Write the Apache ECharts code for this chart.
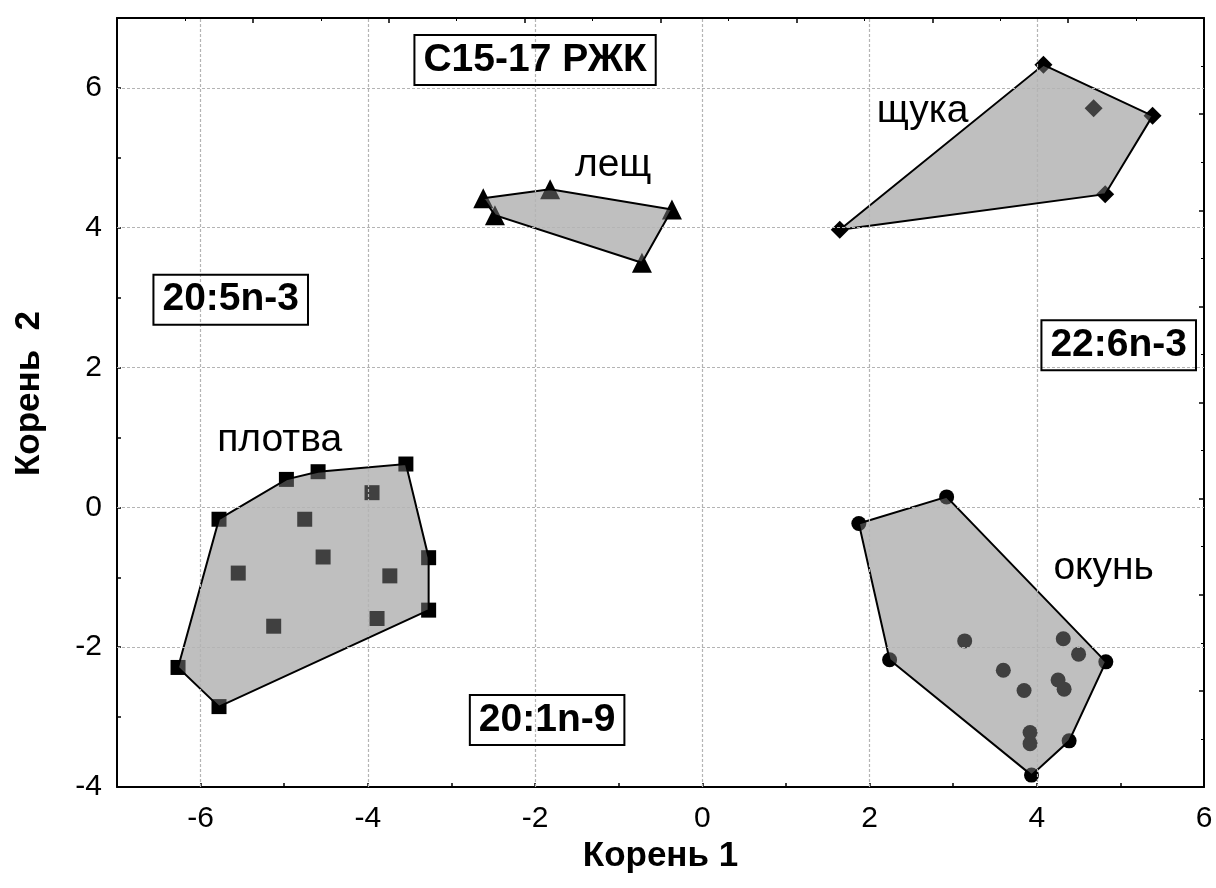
<!DOCTYPE html>
<html>
<head>
<meta charset="utf-8">
<script src="https://cdn.jsdelivr.net/npm/echarts@6/dist/echarts.min.js"></script>
<style>html,body{margin:0;padding:0;background:#fff}#c{width:1216px;height:888px}</style>
</head>
<body>
<div id="c"></div>
<script>
// ---- data ----
const xTicksLabelled = [-6, -4, -2, 0, 2, 4, 6];
const yTicksLabelled = [-4, -2, 0, 2, 4, 6];
const gridX = [-6, -4, -2, 0, 2, 4];
const gridY = [-2, 0, 2, 4, 6];

// плотва (squares)
const plotvaX = [-3.545, -4.595, -4.974, -5.78, -3.95, -4.755, -4.535, -5.55, -3.737, -3.273, -3.273, -3.89, -5.126, -6.27, -5.78];
const plotvaY = [0.62, 0.51, 0.40, -0.17, 0.21, -0.17, -0.71, -0.94, -0.98, -0.72, -1.47, -1.59, -1.70, -2.29, -2.85];
const plotvaHull = [13, 3, 2, 1, 0, 9, 10, 14];

// окунь (circles)
const okunX = [1.872, 2.922, 4.826, 4.387, 3.937, 2.24, 3.138, 4.317, 4.5, 3.60, 4.255, 4.327, 3.848, 3.92, 3.92];
const okunY = [-0.23, 0.15, -2.21, -3.34, -3.83, -2.18, -1.91, -1.88, -2.10, -2.33, -2.47, -2.60, -2.62, -3.22, -3.38];
const okunHull = [0, 1, 2, 3, 4, 5];

// лещ (triangles)
const leshchX = [-2.62, -1.82, -0.363, -0.722, -2.48];
const leshchY = [4.42, 4.55, 4.26, 3.50, 4.18];
const leshchHull = [0, 1, 2, 3, 4];

// щука (diamonds)
const shchukaX = [4.08, 5.385, 4.818, 1.644, 4.68];
const shchukaY = [6.33, 5.60, 4.48, 3.97, 5.71];
const shchukaHull = [0, 1, 2, 3];

// text annotations
const groupNames = ['лещ', 'щука', 'плотва', 'окунь'];
const groupNameX = [-1.066, 2.635, -5.054, 4.80];
const groupNameY = [4.90, 5.66, 0.96, -0.87];

const boxNames = ['C15-17 РЖК', '20:5n-3', '22:6n-3', '20:1n-9'];
const boxNameX = [-2.0, -5.64, 4.98, -1.856];
const boxNameY = [6.40, 2.97, 2.32, -3.04];

const xTitle = 'Корень 1';
const yTitle = 'Корень  2';

// ---- build ----
const FONT = '"Liberation Sans", Arial, sans-serif';
function pts(xs, ys) { return xs.map((x, i) => [x, ys[i]]); }

function scatter(xs, ys, symbol, size) {
  return {
    type: 'scatter', xAxisIndex: 0, yAxisIndex: 0,
    data: pts(xs, ys), symbol: symbol, symbolSize: size,
    itemStyle: { color: '#000', opacity: 1 }, z: 2, silent: true,
    emphasis: { disabled: true }
  };
}
function hull(xs, ys, idx) {
  const verts = idx.map(i => [xs[i], ys[i]]);
  return {
    type: 'custom', xAxisIndex: 0, yAxisIndex: 0, z: 3, silent: true,
    data: [verts[0]],
    renderItem: function (params, api) {
      return {
        type: 'polygon',
        shape: { points: verts.map(v => api.coord(v)) },
        style: { fill: 'rgba(128,128,128,0.5)', stroke: '#000', lineWidth: 2 }
      };
    }
  };
}

const gridLineData = gridX.map(v => ({ xAxis: v })).concat(gridY.map(v => ({ yAxis: v })));

const option = {
  animation: false,
  backgroundColor: '#fff',
  grid: { left: 117, top: 18, right: 12, bottom: 101 },
  xAxis: [{
    type: 'value', min: -7, max: 6, interval: 1, position: 'bottom',
    name: xTitle, nameLocation: 'middle', nameGap: 48,
    nameTextStyle: { fontFamily: FONT, fontSize: 35, fontWeight: 'bold', color: '#000' },
    axisLine: { show: true, onZero: false, lineStyle: { color: '#000', width: 2 } },
    axisTick: { show: true, inside: true, length: 4, lineStyle: { color: '#000', width: 1.5 } },
    axisLabel: { margin: 17, fontFamily: FONT, fontSize: 30, color: '#000',
      formatter: v => (xTicksLabelled.indexOf(v) >= 0 ? String(v) : '') },
    splitLine: { show: false }
  }, {
    type: 'value', min: 0, max: 8, interval: 1, position: 'top',
    axisLine: { show: true, onZero: false, lineStyle: { color: '#000', width: 2 } },
    axisTick: { show: true, inside: true, length: 5, lineStyle: { color: '#000', width: 1.5 } },
    minorTick: { show: true, splitNumber: 2, length: 3, lineStyle: { color: '#000', width: 1 } },
    axisLabel: { show: false }, splitLine: { show: false }
  }],
  yAxis: [{
    type: 'value', min: -4, max: 7, interval: 1, position: 'left',
    name: yTitle, nameLocation: 'middle', nameGap: 70, nameRotate: 90,
    nameTextStyle: { fontFamily: FONT, fontSize: 35, fontWeight: 'bold', color: '#000', padding: [0, 0, 0, 18] },
    axisLine: { show: true, onZero: false, lineStyle: { color: '#000', width: 2 } },
    axisTick: { show: true, inside: true, length: 4, lineStyle: { color: '#000', width: 1.5 } },
    axisLabel: { margin: 15, fontFamily: FONT, fontSize: 30, color: '#000',
      formatter: v => (yTicksLabelled.indexOf(v) >= 0 ? String(v) : '') },
    splitLine: { show: false }
  }, {
    type: 'value', min: 0, max: 8, interval: 1, position: 'right',
    axisLine: { show: true, onZero: false, lineStyle: { color: '#000', width: 2 } },
    axisTick: { show: true, inside: true, length: 5, lineStyle: { color: '#000', width: 1.5 } },
    minorTick: { show: true, splitNumber: 2, length: 3, lineStyle: { color: '#000', width: 1 } },
    axisLabel: { show: false }, splitLine: { show: false }
  }],
  series: [
    {
      type: 'scatter', xAxisIndex: 0, yAxisIndex: 0, data: [], z: 1, silent: true,
      markLine: {
        silent: true, symbol: 'none', animation: false,
        label: { show: false },
        lineStyle: { color: '#b4b4b4', type: [3, 2], width: 1.2, opacity: 1 },
        emphasis: { disabled: true },
        data: gridLineData
      }
    },
    scatter(plotvaX, plotvaY, 'rect', 15),
    scatter(okunX, okunY, 'circle', 15),
    scatter(leshchX, leshchY, 'triangle', 20),
    scatter(shchukaX, shchukaY, 'diamond', 18),
    hull(plotvaX, plotvaY, plotvaHull),
    hull(okunX, okunY, okunHull),
    hull(leshchX, leshchY, leshchHull),
    hull(shchukaX, shchukaY, shchukaHull),
    {
      type: 'scatter', xAxisIndex: 0, yAxisIndex: 0, z: 5, silent: true,
      symbolSize: 0, itemStyle: { opacity: 1, color: '#000' },
      data: groupNames.map((n, i) => ({ name: n, value: [groupNameX[i], groupNameY[i]] })),
      label: { show: true, position: 'inside', formatter: p => p.name,
        fontFamily: FONT, fontSize: 39, color: '#000', opacity: 1 }
    },
    {
      type: 'scatter', xAxisIndex: 0, yAxisIndex: 0, z: 5, silent: true,
      symbolSize: 0, itemStyle: { opacity: 1, color: '#000' },
      data: boxNames.map((n, i) => ({ name: n, value: [boxNameX[i], boxNameY[i]] })),
      label: { show: true, position: 'inside', formatter: p => p.name,
        fontFamily: FONT, fontSize: 39, fontWeight: 'bold', color: '#000', opacity: 1,
        borderColor: '#000', borderWidth: 2, padding: [7, 9, 4, 9] }
    }
  ]
};
const chart = echarts.init(document.getElementById('c'), null, { renderer: 'canvas' });
chart.setOption(option);
</script>
</body>
</html>
